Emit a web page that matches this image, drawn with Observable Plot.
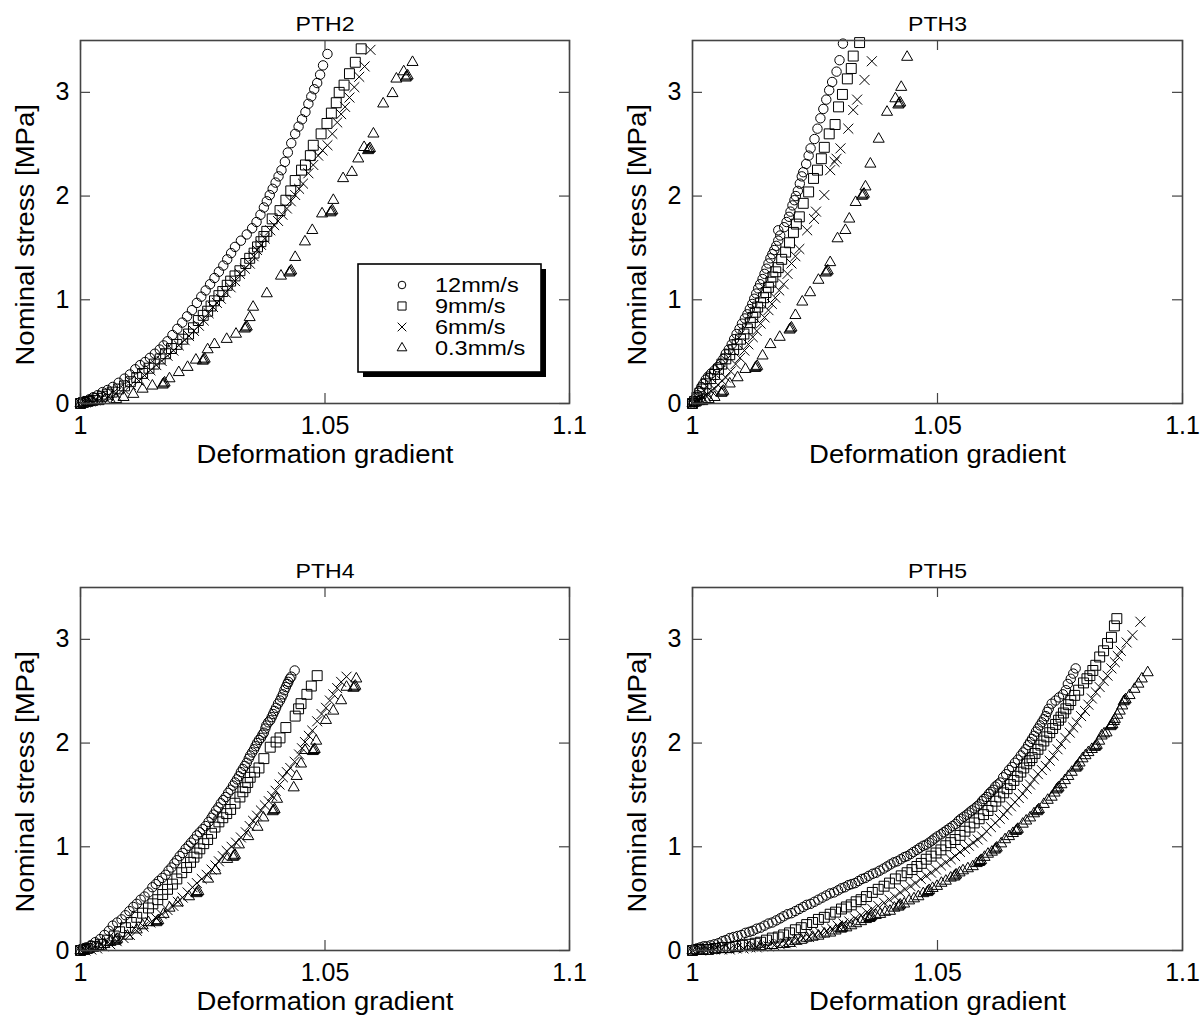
<!DOCTYPE html>
<html>
<head>
<meta charset="utf-8">
<script src="https://cdn.jsdelivr.net/npm/d3@7"></script>
<script src="https://cdn.jsdelivr.net/npm/@observablehq/plot@0.6"></script>
<style>
  html, body { margin: 0; padding: 0; background: #fff; }
  #fig { position: relative; width: 1203px; height: 1017px; overflow: hidden; background: #fff; }
  #fig > svg { position: absolute; }
</style>
</head>
<body>
<div id="fig"></div>
<script>
// ---- shared axis / legend definitions ----
const xTicks = [1, 1.05, 1.1];
const yTicks = [0, 1, 2, 3];
const rates = ["12mm/s", "9mm/s", "6mm/s", "0.3mm/s"];
const rateSymbols = ["circle", "square", "times", "triangle"];
const titles = ["PTH2", "PTH3", "PTH4", "PTH5"];
const xLabel = "Deformation gradient";
const yLabel = "Nominal stress [MPa]";

// ---- measured curves: [deformation gradient, nominal stress (MPa)] ----
const pth2_12 = [[1.0000,0.00],[1.0004,0.01],[1.0010,0.02],[1.0018,0.04],[1.0026,0.06],[1.0035,0.08],[1.0045,0.11],[1.0055,0.13],[1.0066,0.16],[1.0078,0.20],[1.0090,0.24],[1.0101,0.28],[1.0112,0.33],[1.0122,0.37],[1.0132,0.40],[1.0142,0.44],[1.0152,0.48],[1.0162,0.52],[1.0170,0.56],[1.0178,0.60],[1.0188,0.66],[1.0198,0.72],[1.0208,0.78],[1.0218,0.84],[1.0228,0.90],[1.0238,0.97],[1.0247,1.03],[1.0256,1.09],[1.0265,1.15],[1.0274,1.21],[1.0283,1.27],[1.0292,1.33],[1.0300,1.39],[1.0308,1.45],[1.0316,1.51],[1.0328,1.57],[1.0340,1.63],[1.0351,1.69],[1.0360,1.75],[1.0368,1.82],[1.0375,1.89],[1.0381,1.95],[1.0387,2.01],[1.0393,2.07],[1.0399,2.13],[1.0405,2.19],[1.0411,2.25],[1.0418,2.33],[1.0424,2.42],[1.0431,2.51],[1.0439,2.60],[1.0446,2.67],[1.0453,2.74],[1.0460,2.81],[1.0466,2.89],[1.0472,2.96],[1.0478,3.03],[1.0484,3.09],[1.0490,3.17],[1.0496,3.26],[1.0505,3.37]];
const pth2_9 = [[1.0000,0.00],[1.0006,0.01],[1.0015,0.02],[1.0025,0.03],[1.0034,0.05],[1.0045,0.07],[1.0055,0.09],[1.0065,0.11],[1.0078,0.14],[1.0090,0.17],[1.0102,0.21],[1.0115,0.25],[1.0127,0.29],[1.0140,0.34],[1.0151,0.38],[1.0163,0.43],[1.0174,0.48],[1.0186,0.53],[1.0197,0.57],[1.0209,0.62],[1.0221,0.67],[1.0231,0.73],[1.0241,0.80],[1.0251,0.85],[1.0260,0.89],[1.0267,0.94],[1.0274,0.99],[1.0283,1.04],[1.0291,1.08],[1.0300,1.14],[1.0307,1.18],[1.0316,1.23],[1.0326,1.28],[1.0338,1.35],[1.0346,1.40],[1.0355,1.45],[1.0362,1.51],[1.0369,1.56],[1.0375,1.61],[1.0381,1.66],[1.0392,1.78],[1.0408,1.86],[1.0420,1.96],[1.0430,2.05],[1.0439,2.15],[1.0452,2.25],[1.0460,2.30],[1.0470,2.39],[1.0476,2.49],[1.0492,2.60],[1.0504,2.70],[1.0513,2.80],[1.0523,2.90],[1.0529,3.00],[1.0539,3.07],[1.0550,3.18],[1.0562,3.29],[1.0574,3.42]];
const pth2_6 = [[1.0000,0.00],[1.0010,0.01],[1.0020,0.02],[1.0030,0.03],[1.0042,0.05],[1.0057,0.07],[1.0072,0.10],[1.0088,0.14],[1.0103,0.18],[1.0119,0.22],[1.0131,0.27],[1.0143,0.32],[1.0155,0.37],[1.0166,0.41],[1.0178,0.46],[1.0190,0.51],[1.0201,0.56],[1.0213,0.61],[1.0222,0.65],[1.0232,0.70],[1.0242,0.75],[1.0252,0.80],[1.0262,0.87],[1.0271,0.93],[1.0279,0.97],[1.0287,1.01],[1.0297,1.07],[1.0307,1.12],[1.0316,1.18],[1.0326,1.25],[1.0336,1.30],[1.0346,1.35],[1.0354,1.42],[1.0361,1.48],[1.0369,1.53],[1.0377,1.59],[1.0388,1.67],[1.0396,1.72],[1.0404,1.76],[1.0413,1.82],[1.0422,1.88],[1.0430,1.95],[1.0439,2.01],[1.0447,2.07],[1.0455,2.12],[1.0466,2.22],[1.0476,2.30],[1.0486,2.39],[1.0495,2.44],[1.0505,2.49],[1.0515,2.60],[1.0525,2.71],[1.0533,2.79],[1.0541,2.86],[1.0550,2.95],[1.0560,3.05],[1.0570,3.15],[1.0581,3.25],[1.0593,3.41]];
const pth2_03 = [[1.0000,0.00],[1.0006,0.01],[1.0016,0.01],[1.0026,0.02],[1.0037,0.02],[1.0049,0.03],[1.0061,0.03],[1.0073,0.04],[1.0088,0.06],[1.0108,0.09],[1.0127,0.14],[1.0147,0.17],[1.0168,0.18],[1.0170,0.19],[1.0172,0.20],[1.0182,0.24],[1.0201,0.30],[1.0219,0.35],[1.0236,0.42],[1.0250,0.41],[1.0252,0.42],[1.0254,0.43],[1.0260,0.52],[1.0274,0.57],[1.0299,0.62],[1.0318,0.67],[1.0336,0.72],[1.0338,0.73],[1.0340,0.74],[1.0346,0.83],[1.0353,0.93],[1.0381,1.06],[1.0410,1.23],[1.0427,1.26],[1.0429,1.27],[1.0431,1.28],[1.0439,1.41],[1.0459,1.56],[1.0474,1.67],[1.0494,1.83],[1.0511,1.84],[1.0513,1.85],[1.0515,1.86],[1.0517,1.96],[1.0537,2.17],[1.0555,2.23],[1.0568,2.36],[1.0580,2.47],[1.0588,2.44],[1.0590,2.45],[1.0592,2.46],[1.0599,2.60],[1.0619,2.89],[1.0638,2.99],[1.0646,3.13],[1.0665,3.14],[1.0667,3.15],[1.0669,3.16],[1.0661,3.20],[1.0679,3.29]];

const pth3_12 = [[1.0000,0.00],[1.0003,0.02],[1.0006,0.05],[1.0010,0.08],[1.0014,0.12],[1.0018,0.16],[1.0022,0.19],[1.0027,0.23],[1.0032,0.26],[1.0038,0.29],[1.0045,0.32],[1.0051,0.35],[1.0057,0.38],[1.0063,0.43],[1.0068,0.48],[1.0074,0.52],[1.0080,0.57],[1.0085,0.62],[1.0090,0.67],[1.0096,0.72],[1.0101,0.77],[1.0107,0.82],[1.0112,0.86],[1.0117,0.91],[1.0122,0.96],[1.0126,1.01],[1.0130,1.06],[1.0134,1.11],[1.0138,1.15],[1.0143,1.20],[1.0147,1.25],[1.0151,1.30],[1.0155,1.35],[1.0159,1.40],[1.0163,1.44],[1.0167,1.48],[1.0171,1.52],[1.0175,1.57],[1.0179,1.62],[1.0175,1.67],[1.0187,1.70],[1.0192,1.75],[1.0197,1.80],[1.0200,1.85],[1.0204,1.91],[1.0208,1.96],[1.0211,2.00],[1.0215,2.05],[1.0219,2.12],[1.0223,2.19],[1.0226,2.23],[1.0232,2.31],[1.0237,2.39],[1.0241,2.46],[1.0249,2.55],[1.0255,2.65],[1.0261,2.75],[1.0267,2.84],[1.0273,2.93],[1.0279,3.02],[1.0285,3.10],[1.0294,3.20],[1.0300,3.31],[1.0307,3.47]];
const pth3_9 = [[1.0000,0.00],[1.0004,0.02],[1.0009,0.06],[1.0015,0.10],[1.0021,0.14],[1.0028,0.19],[1.0037,0.24],[1.0045,0.28],[1.0053,0.33],[1.0060,0.38],[1.0068,0.43],[1.0076,0.47],[1.0084,0.52],[1.0091,0.57],[1.0098,0.62],[1.0105,0.67],[1.0112,0.72],[1.0118,0.78],[1.0123,0.83],[1.0128,0.88],[1.0133,0.93],[1.0139,0.97],[1.0145,1.02],[1.0150,1.07],[1.0155,1.12],[1.0160,1.17],[1.0164,1.22],[1.0170,1.27],[1.0175,1.31],[1.0182,1.39],[1.0190,1.46],[1.0198,1.55],[1.0206,1.65],[1.0212,1.73],[1.0218,1.80],[1.0226,1.93],[1.0237,2.04],[1.0247,2.17],[1.0255,2.25],[1.0263,2.36],[1.0269,2.47],[1.0279,2.60],[1.0291,2.69],[1.0298,2.86],[1.0306,2.98],[1.0316,3.13],[1.0324,3.23],[1.0328,3.35],[1.0341,3.48]];
const pth3_6 = [[1.0000,0.00],[1.0006,0.02],[1.0013,0.04],[1.0021,0.06],[1.0030,0.09],[1.0038,0.12],[1.0045,0.14],[1.0052,0.18],[1.0060,0.22],[1.0068,0.25],[1.0078,0.31],[1.0088,0.38],[1.0097,0.44],[1.0106,0.51],[1.0114,0.57],[1.0123,0.64],[1.0131,0.70],[1.0139,0.77],[1.0147,0.83],[1.0155,0.90],[1.0162,0.96],[1.0169,1.02],[1.0177,1.09],[1.0186,1.15],[1.0194,1.25],[1.0202,1.35],[1.0210,1.42],[1.0218,1.49],[1.0234,1.67],[1.0248,1.78],[1.0252,1.85],[1.0269,2.01],[1.0281,2.25],[1.0290,2.33],[1.0294,2.36],[1.0302,2.46],[1.0318,2.65],[1.0328,2.83],[1.0336,2.93],[1.0351,3.12],[1.0366,3.30]];
const pth3_03 = [[1.0000,0.00],[1.0007,0.01],[1.0013,0.02],[1.0020,0.02],[1.0027,0.03],[1.0033,0.04],[1.0045,0.06],[1.0059,0.10],[1.0061,0.11],[1.0063,0.12],[1.0076,0.19],[1.0092,0.25],[1.0108,0.33],[1.0128,0.34],[1.0130,0.35],[1.0132,0.36],[1.0143,0.46],[1.0159,0.57],[1.0178,0.64],[1.0198,0.71],[1.0200,0.72],[1.0202,0.73],[1.0210,0.85],[1.0224,0.98],[1.0240,1.07],[1.0257,1.19],[1.0272,1.26],[1.0274,1.27],[1.0276,1.28],[1.0281,1.36],[1.0296,1.59],[1.0312,1.67],[1.0320,1.78],[1.0333,1.94],[1.0346,2.00],[1.0348,2.01],[1.0350,2.02],[1.0353,2.09],[1.0363,2.31],[1.0380,2.55],[1.0397,2.81],[1.0414,2.94],[1.0420,2.88],[1.0422,2.89],[1.0424,2.90],[1.0426,3.05],[1.0438,3.34]];

const pth4_12 = [[1.0000,0.00],[1.0006,0.01],[1.0012,0.03],[1.0021,0.05],[1.0030,0.08],[1.0040,0.11],[1.0049,0.15],[1.0058,0.19],[1.0066,0.24],[1.0075,0.27],[1.0084,0.30],[1.0092,0.34],[1.0100,0.38],[1.0108,0.42],[1.0115,0.45],[1.0123,0.49],[1.0131,0.52],[1.0139,0.56],[1.0147,0.61],[1.0154,0.64],[1.0160,0.67],[1.0167,0.70],[1.0174,0.73],[1.0180,0.77],[1.0186,0.80],[1.0192,0.84],[1.0197,0.87],[1.0203,0.91],[1.0209,0.94],[1.0215,0.98],[1.0221,1.01],[1.0226,1.04],[1.0232,1.07],[1.0238,1.11],[1.0244,1.14],[1.0250,1.17],[1.0256,1.20],[1.0262,1.24],[1.0268,1.28],[1.0272,1.31],[1.0277,1.35],[1.0282,1.38],[1.0287,1.42],[1.0292,1.45],[1.0297,1.48],[1.0302,1.52],[1.0307,1.55],[1.0312,1.59],[1.0316,1.62],[1.0320,1.65],[1.0324,1.68],[1.0328,1.72],[1.0332,1.75],[1.0336,1.78],[1.0340,1.81],[1.0344,1.85],[1.0347,1.88],[1.0351,1.91],[1.0355,1.94],[1.0358,1.97],[1.0361,2.00],[1.0365,2.03],[1.0369,2.05],[1.0372,2.08],[1.0375,2.10],[1.0378,2.14],[1.0380,2.17],[1.0384,2.20],[1.0388,2.22],[1.0391,2.25],[1.0394,2.28],[1.0397,2.31],[1.0400,2.34],[1.0404,2.38],[1.0408,2.41],[1.0411,2.44],[1.0414,2.47],[1.0417,2.51],[1.0420,2.54],[1.0423,2.57],[1.0425,2.59],[1.0428,2.62],[1.0431,2.64],[1.0438,2.70]];
const pth4_9 = [[1.0000,0.00],[1.0007,0.01],[1.0014,0.02],[1.0027,0.04],[1.0041,0.06],[1.0055,0.10],[1.0069,0.14],[1.0080,0.18],[1.0092,0.22],[1.0104,0.27],[1.0115,0.32],[1.0127,0.36],[1.0139,0.41],[1.0148,0.45],[1.0158,0.49],[1.0168,0.54],[1.0178,0.59],[1.0188,0.64],[1.0197,0.69],[1.0207,0.75],[1.0217,0.80],[1.0225,0.85],[1.0232,0.90],[1.0238,0.94],[1.0244,0.98],[1.0252,1.03],[1.0260,1.07],[1.0268,1.13],[1.0275,1.19],[1.0283,1.24],[1.0291,1.28],[1.0299,1.32],[1.0307,1.36],[1.0316,1.42],[1.0326,1.48],[1.0332,1.53],[1.0337,1.57],[1.0342,1.62],[1.0347,1.67],[1.0356,1.72],[1.0365,1.76],[1.0375,1.85],[1.0388,1.96],[1.0400,2.01],[1.0408,2.05],[1.0420,2.15],[1.0439,2.26],[1.0446,2.33],[1.0451,2.38],[1.0463,2.47],[1.0472,2.55],[1.0484,2.65]];
const pth4_6 = [[1.0000,0.00],[1.0010,0.00],[1.0022,0.01],[1.0034,0.02],[1.0047,0.04],[1.0061,0.06],[1.0074,0.09],[1.0088,0.12],[1.0101,0.15],[1.0115,0.19],[1.0129,0.23],[1.0143,0.27],[1.0155,0.31],[1.0166,0.35],[1.0178,0.39],[1.0190,0.43],[1.0199,0.47],[1.0209,0.51],[1.0219,0.56],[1.0229,0.61],[1.0238,0.65],[1.0248,0.69],[1.0258,0.73],[1.0268,0.78],[1.0276,0.82],[1.0283,0.86],[1.0291,0.91],[1.0299,0.96],[1.0309,1.00],[1.0318,1.04],[1.0328,1.09],[1.0338,1.14],[1.0346,1.20],[1.0353,1.25],[1.0361,1.30],[1.0369,1.35],[1.0377,1.40],[1.0385,1.44],[1.0392,1.49],[1.0399,1.54],[1.0407,1.60],[1.0414,1.67],[1.0422,1.72],[1.0429,1.76],[1.0438,1.82],[1.0447,1.89],[1.0453,1.95],[1.0459,2.01],[1.0467,2.07],[1.0474,2.12],[1.0484,2.21],[1.0493,2.28],[1.0502,2.34],[1.0510,2.41],[1.0517,2.47],[1.0525,2.53],[1.0533,2.59],[1.0544,2.64]];
const pth4_03 = [[1.0000,0.00],[1.0006,0.00],[1.0016,0.01],[1.0026,0.03],[1.0037,0.04],[1.0049,0.06],[1.0061,0.08],[1.0071,0.09],[1.0073,0.10],[1.0075,0.11],[1.0096,0.14],[1.0115,0.20],[1.0127,0.24],[1.0139,0.27],[1.0155,0.27],[1.0157,0.28],[1.0159,0.29],[1.0170,0.35],[1.0182,0.41],[1.0199,0.46],[1.0222,0.52],[1.0237,0.55],[1.0239,0.56],[1.0241,0.57],[1.0261,0.69],[1.0276,0.77],[1.0300,0.88],[1.0312,0.90],[1.0314,0.91],[1.0316,0.92],[1.0324,1.02],[1.0343,1.10],[1.0362,1.19],[1.0374,1.28],[1.0393,1.34],[1.0395,1.35],[1.0397,1.36],[1.0402,1.46],[1.0436,1.57],[1.0442,1.68],[1.0451,1.80],[1.0459,1.93],[1.0475,1.92],[1.0477,1.93],[1.0479,1.94],[1.0482,2.02],[1.0502,2.22],[1.0517,2.31],[1.0533,2.41],[1.0544,2.54],[1.0558,2.53],[1.0560,2.54],[1.0562,2.55],[1.0564,2.62]];

const pth5_12 = [[1.0000,0.00],[1.0005,0.01],[1.0009,0.02],[1.0016,0.03],[1.0023,0.04],[1.0029,0.04],[1.0037,0.05],[1.0045,0.06],[1.0053,0.07],[1.0061,0.09],[1.0068,0.10],[1.0076,0.12],[1.0084,0.13],[1.0092,0.14],[1.0100,0.15],[1.0108,0.17],[1.0116,0.18],[1.0123,0.19],[1.0131,0.21],[1.0139,0.22],[1.0147,0.24],[1.0155,0.26],[1.0163,0.27],[1.0171,0.29],[1.0179,0.31],[1.0186,0.33],[1.0194,0.35],[1.0202,0.36],[1.0210,0.38],[1.0218,0.40],[1.0226,0.42],[1.0233,0.44],[1.0241,0.45],[1.0249,0.47],[1.0257,0.49],[1.0265,0.51],[1.0273,0.53],[1.0281,0.55],[1.0289,0.56],[1.0297,0.58],[1.0304,0.60],[1.0311,0.61],[1.0318,0.63],[1.0325,0.64],[1.0332,0.65],[1.0339,0.67],[1.0346,0.69],[1.0353,0.70],[1.0360,0.72],[1.0368,0.74],[1.0375,0.75],[1.0382,0.77],[1.0390,0.79],[1.0397,0.81],[1.0404,0.83],[1.0411,0.85],[1.0418,0.86],[1.0425,0.88],[1.0432,0.90],[1.0438,0.91],[1.0445,0.93],[1.0451,0.95],[1.0458,0.97],[1.0464,0.99],[1.0471,1.01],[1.0477,1.02],[1.0483,1.04],[1.0489,1.06],[1.0494,1.08],[1.0500,1.10],[1.0507,1.12],[1.0513,1.14],[1.0519,1.16],[1.0525,1.18],[1.0531,1.20],[1.0537,1.22],[1.0543,1.25],[1.0548,1.27],[1.0554,1.29],[1.0560,1.31],[1.0565,1.33],[1.0570,1.35],[1.0576,1.37],[1.0581,1.39],[1.0586,1.41],[1.0591,1.44],[1.0595,1.46],[1.0600,1.48],[1.0605,1.51],[1.0609,1.53],[1.0614,1.55],[1.0618,1.58],[1.0623,1.60],[1.0628,1.62],[1.0634,1.67],[1.0640,1.70],[1.0646,1.74],[1.0652,1.77],[1.0658,1.81],[1.0664,1.84],[1.0670,1.88],[1.0675,1.91],[1.0680,1.94],[1.0685,1.98],[1.0689,2.01],[1.0693,2.04],[1.0697,2.07],[1.0701,2.11],[1.0705,2.14],[1.0709,2.17],[1.0713,2.20],[1.0717,2.23],[1.0721,2.26],[1.0724,2.30],[1.0727,2.33],[1.0733,2.38],[1.0741,2.41],[1.0748,2.44],[1.0756,2.47],[1.0762,2.51],[1.0766,2.57],[1.0772,2.62],[1.0777,2.67],[1.0782,2.72]];
const pth5_9 = [[1.0000,0.00],[1.0009,0.01],[1.0021,0.01],[1.0033,0.01],[1.0047,0.02],[1.0061,0.03],[1.0075,0.03],[1.0088,0.04],[1.0102,0.05],[1.0116,0.06],[1.0128,0.07],[1.0139,0.08],[1.0151,0.10],[1.0163,0.12],[1.0175,0.13],[1.0186,0.15],[1.0198,0.17],[1.0210,0.20],[1.0222,0.22],[1.0233,0.25],[1.0245,0.27],[1.0257,0.30],[1.0269,0.32],[1.0281,0.35],[1.0292,0.37],[1.0304,0.40],[1.0314,0.42],[1.0324,0.44],[1.0334,0.47],[1.0344,0.49],[1.0355,0.52],[1.0367,0.56],[1.0379,0.59],[1.0391,0.62],[1.0402,0.65],[1.0414,0.69],[1.0426,0.72],[1.0438,0.75],[1.0448,0.78],[1.0458,0.81],[1.0467,0.84],[1.0477,0.88],[1.0487,0.91],[1.0497,0.94],[1.0507,0.97],[1.0517,1.01],[1.0527,1.04],[1.0536,1.07],[1.0546,1.11],[1.0556,1.15],[1.0566,1.19],[1.0575,1.23],[1.0585,1.27],[1.0594,1.31],[1.0603,1.35],[1.0611,1.39],[1.0619,1.44],[1.0627,1.48],[1.0635,1.52],[1.0642,1.56],[1.0649,1.60],[1.0656,1.64],[1.0663,1.68],[1.0670,1.72],[1.0676,1.76],[1.0682,1.80],[1.0688,1.83],[1.0693,1.86],[1.0699,1.90],[1.0705,1.94],[1.0711,1.98],[1.0717,2.02],[1.0723,2.06],[1.0729,2.10],[1.0735,2.14],[1.0741,2.18],[1.0747,2.22],[1.0752,2.25],[1.0757,2.29],[1.0762,2.33],[1.0767,2.37],[1.0772,2.41],[1.0780,2.46],[1.0788,2.51],[1.0798,2.58],[1.0805,2.62],[1.0811,2.65],[1.0817,2.70],[1.0823,2.75],[1.0831,2.83],[1.0839,2.89],[1.0847,2.96],[1.0855,3.02],[1.0861,3.13],[1.0866,3.20]];
const pth5_6 = [[1.0000,0.00],[1.0017,0.00],[1.0031,0.01],[1.0045,0.01],[1.0060,0.01],[1.0076,0.01],[1.0090,0.02],[1.0104,0.02],[1.0118,0.03],[1.0131,0.03],[1.0143,0.04],[1.0155,0.04],[1.0167,0.05],[1.0178,0.06],[1.0190,0.07],[1.0202,0.08],[1.0214,0.10],[1.0226,0.12],[1.0238,0.13],[1.0249,0.15],[1.0261,0.17],[1.0273,0.19],[1.0285,0.21],[1.0296,0.24],[1.0308,0.26],[1.0320,0.28],[1.0332,0.31],[1.0344,0.34],[1.0356,0.37],[1.0367,0.40],[1.0379,0.43],[1.0391,0.46],[1.0402,0.49],[1.0413,0.52],[1.0424,0.56],[1.0434,0.59],[1.0445,0.62],[1.0455,0.65],[1.0466,0.69],[1.0477,0.72],[1.0487,0.75],[1.0497,0.78],[1.0507,0.82],[1.0517,0.85],[1.0527,0.88],[1.0536,0.91],[1.0546,0.95],[1.0556,0.98],[1.0564,1.01],[1.0573,1.04],[1.0582,1.07],[1.0591,1.10],[1.0600,1.15],[1.0609,1.19],[1.0618,1.23],[1.0627,1.27],[1.0635,1.31],[1.0642,1.35],[1.0650,1.39],[1.0658,1.43],[1.0666,1.47],[1.0674,1.51],[1.0682,1.56],[1.0689,1.60],[1.0697,1.65],[1.0705,1.70],[1.0713,1.74],[1.0721,1.78],[1.0729,1.83],[1.0737,1.88],[1.0745,1.94],[1.0752,1.99],[1.0761,2.05],[1.0770,2.10],[1.0777,2.15],[1.0784,2.20],[1.0793,2.26],[1.0801,2.31],[1.0808,2.37],[1.0815,2.43],[1.0823,2.49],[1.0831,2.54],[1.0839,2.60],[1.0847,2.65],[1.0855,2.72],[1.0862,2.78],[1.0868,2.84],[1.0874,2.89],[1.0886,2.97],[1.0898,3.04],[1.0914,3.17]];
const pth5_03 = [[1.0000,0.00],[1.0021,0.00],[1.0045,0.01],[1.0068,0.01],[1.0092,0.02],[1.0116,0.03],[1.0139,0.04],[1.0163,0.05],[1.0186,0.06],[1.0198,0.07],[1.0210,0.09],[1.0222,0.10],[1.0233,0.12],[1.0245,0.13],[1.0257,0.14],[1.0269,0.16],[1.0281,0.17],[1.0292,0.19],[1.0302,0.21],[1.0304,0.21],[1.0306,0.22],[1.0314,0.22],[1.0324,0.24],[1.0334,0.26],[1.0344,0.28],[1.0354,0.30],[1.0361,0.31],[1.0363,0.32],[1.0365,0.33],[1.0374,0.34],[1.0383,0.35],[1.0393,0.37],[1.0403,0.38],[1.0412,0.41],[1.0420,0.42],[1.0422,0.43],[1.0424,0.44],[1.0432,0.45],[1.0442,0.48],[1.0452,0.50],[1.0461,0.52],[1.0471,0.55],[1.0479,0.56],[1.0481,0.57],[1.0483,0.58],[1.0490,0.60],[1.0499,0.62],[1.0508,0.65],[1.0517,0.67],[1.0527,0.70],[1.0534,0.71],[1.0536,0.72],[1.0538,0.73],[1.0545,0.75],[1.0552,0.77],[1.0562,0.79],[1.0572,0.81],[1.0580,0.84],[1.0585,0.85],[1.0587,0.86],[1.0589,0.87],[1.0596,0.90],[1.0603,0.93],[1.0611,0.95],[1.0617,0.97],[1.0619,0.98],[1.0621,0.99],[1.0630,1.03],[1.0638,1.07],[1.0646,1.10],[1.0654,1.13],[1.0660,1.15],[1.0662,1.16],[1.0664,1.17],[1.0674,1.22],[1.0681,1.25],[1.0689,1.28],[1.0697,1.32],[1.0703,1.34],[1.0705,1.35],[1.0707,1.36],[1.0717,1.41],[1.0725,1.45],[1.0733,1.48],[1.0739,1.52],[1.0743,1.55],[1.0745,1.56],[1.0747,1.57],[1.0753,1.60],[1.0760,1.64],[1.0767,1.68],[1.0774,1.72],[1.0782,1.76],[1.0784,1.77],[1.0786,1.78],[1.0790,1.81],[1.0796,1.85],[1.0802,1.88],[1.0808,1.91],[1.0815,1.94],[1.0821,1.96],[1.0823,1.97],[1.0825,1.98],[1.0830,2.02],[1.0835,2.07],[1.0840,2.09],[1.0845,2.10],[1.0853,2.16],[1.0855,2.17],[1.0857,2.18],[1.0860,2.21],[1.0862,2.23],[1.0867,2.27],[1.0872,2.31],[1.0877,2.36],[1.0880,2.40],[1.0882,2.41],[1.0884,2.42],[1.0892,2.46],[1.0902,2.52],[1.0910,2.57],[1.0917,2.62],[1.0929,2.68]];

// ---- layout ----
const FONT = '"Liberation Sans", Arial, Helvetica, sans-serif';
const INK = "#000";
const AXIS = "#444";
const symbolRadius = {circle: 4.7, square: 5.6, times: 4.6, triangle: 4.1};

const panels = [
  {title: titles[0], series: [pth2_12, pth2_9, pth2_6, pth2_03], left: 0,   top: 0,   width: 600, ml: 80, mr: 31, legend: true},
  {title: titles[1], series: [pth3_12, pth3_9, pth3_6, pth3_03], left: 600, top: 0,   width: 603, ml: 92, mr: 21},
  {title: titles[2], series: [pth4_12, pth4_9, pth4_6, pth4_03], left: 0,   top: 547, width: 600, ml: 80, mr: 31},
  {title: titles[3], series: [pth5_12, pth5_9, pth5_6, pth5_03], left: 600, top: 547, width: 603, ml: 92, mr: 21}
];

const fig = document.getElementById("fig");
const fmt = d3.format("~g");

// The lettering is a little wider than Arial: stretch the marked strings along their baseline.
function widen(root, k) {
  root.querySelectorAll("text.wide").forEach(t => {
    const w = t.getComputedTextLength();
    if (w > 0) {
      t.setAttribute("textLength", (w * k).toFixed(2));
      t.setAttribute("lengthAdjust", "spacingAndGlyphs");
    }
  });
}

function drawLegend(svg, box) {
  const g = d3.select(svg).append("g").attr("class", "legend");
  g.append("rect").attr("x", box.x + 5).attr("y", box.y + 5).attr("width", box.w).attr("height", box.h).attr("fill", INK);
  g.append("rect").attr("x", box.x).attr("y", box.y).attr("width", box.w).attr("height", box.h)
    .attr("fill", "#fff").attr("stroke", INK).attr("stroke-width", 1.6);
  const shapes = {circle: d3.symbolCircle, square: d3.symbolSquare, times: d3.symbolTimes, triangle: d3.symbolTriangle};
  const legendR = {circle: 3.8, square: 4.6, times: 4, triangle: 3.6};
  rates.forEach((rate, i) => {
    const base = box.y + 28 + i * 21;
    const sym = rateSymbols[i];
    g.append("path")
      .attr("transform", `translate(${box.x + 44},${base - 7})`)
      .attr("d", d3.symbol(shapes[sym], Math.PI * legendR[sym] ** 2)())
      .attr("fill", "none").attr("stroke", INK).attr("stroke-width", 1);
    g.append("text")
      .attr("class", "wide")
      .attr("x", box.x + 77).attr("y", base)
      .attr("text-anchor", "start")
      .attr("font-family", FONT).attr("font-size", 21).attr("fill", INK)
      .text(rate);
  });
}

for (const p of panels) {
  const height = 470, mt = 40, mb = 67;
  const fw = p.width - p.ml - p.mr;
  const fh = height - mt - mb;
  const dots = p.series.map((pts, i) => Plot.dot(pts, {
    x: d => d[0], y: d => d[1],
    symbol: rateSymbols[i], r: symbolRadius[rateSymbols[i]],
    fill: "none", stroke: INK, strokeWidth: 1
  }));
  const svg = Plot.plot({
    width: p.width, height,
    marginLeft: p.ml, marginRight: p.mr, marginTop: mt, marginBottom: mb,
    style: {fontFamily: FONT, background: "#fff", color: INK, overflow: "visible"},
    x: {domain: [1, 1.1], axis: null},
    y: {domain: [0, 3.5], axis: null},
    marks: [
      ...dots,
      Plot.frame({stroke: AXIS, strokeWidth: 1.6}),
      // inward ticks on all four sides of the frame
      Plot.tickX(xTicks, {x: d => d, insetTop: fh - 10, stroke: AXIS, strokeWidth: 1.2}),
      Plot.tickX(xTicks, {x: d => d, insetBottom: fh - 10, stroke: AXIS, strokeWidth: 1.2}),
      Plot.tickY(yTicks, {y: d => d, insetLeft: fw - 10, stroke: AXIS, strokeWidth: 1.2}),
      Plot.tickY(yTicks, {y: d => d, insetRight: fw - 10, stroke: AXIS, strokeWidth: 1.2}),
      Plot.axisX({ticks: xTicks, tickFormat: fmt, tickSize: 0, tickPadding: 13, fontSize: 25, label: null}),
      Plot.axisY({ticks: yTicks, tickFormat: fmt, tickSize: 0, tickPadding: 11, fontSize: 25, label: null}),
      Plot.text([p.title], {text: d => d, frameAnchor: "top", lineAnchor: "middle", dy: -16, fontSize: 21, className: "wide"}),
      Plot.text([xLabel], {text: d => d, frameAnchor: "bottom", lineAnchor: "middle", dy: 51, fontSize: 25, className: "wide"}),
      Plot.text([yLabel], {text: d => d, frameAnchor: "bottom-left", lineAnchor: "middle", textAnchor: "start", rotate: -90, dx: -55, dy: -38, fontSize: 25, className: "wide"})
    ]
  });
  svg.style.left = p.left + "px";
  svg.style.top = p.top + "px";
  fig.appendChild(svg);
  // Plot puts className on the mark's group; tag its text children for widening
  svg.querySelectorAll("g.wide text").forEach(t => t.classList.add("wide"));
  widen(svg, 1.1);
  if (p.legend) {
    drawLegend(svg, {x: p.ml + 278, y: mt + 224, w: 183, h: 108});
    widen(svg.querySelector("g.legend"), 1.12);
  }
}
</script>
</body>
</html>
